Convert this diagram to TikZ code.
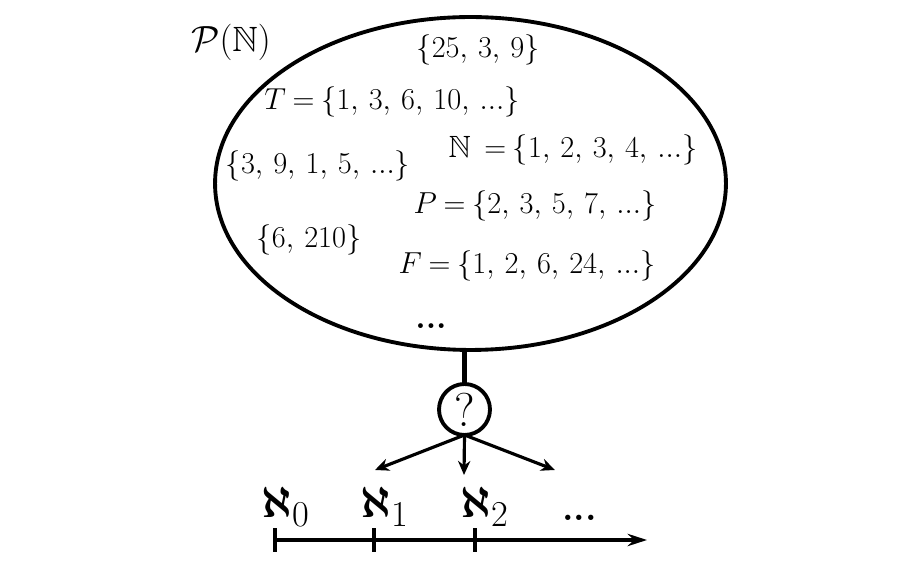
\documentclass[tikz,border=0pt]{standalone}
\usepackage{amsmath,amssymb}
\usetikzlibrary{positioning,shapes.geometric,arrows.meta}
\begin{document}
\begin{tikzpicture}[x=0.02cm,y=-0.02cm]
  \newcommand{\memberfont}[0]{\fontsize{17.5}{21}\selectfont\thickmuskip=4mu}
  \newcommand{\cardinal}[1]{$\boldsymbol{\aleph}_{#1}$}
  \newcommand{\etc}[0]{\textbf{...}}
  \tikzstyle{member}    = [font=\memberfont, inner sep=0pt]
  \tikzstyle{cardnode}  = [font=\fontsize{30}{34}\selectfont, inner sep=0pt, anchor=base west]
  \tikzstyle{connector} = [line width=1.8pt, -{Stealth[length=8pt, width=7pt]}]
  \tikzstyle{tick}      = [line width=1.8pt]
  \useasboundingbox (0,0) rectangle (920,563);
  % the power set
  \node [ellipse, draw, line width=2.2pt, outer sep=0pt, minimum width=10.22cm, minimum height=6.66cm] (powerset) at (470.5,183.5) {};
  \node [member, font=\fontsize{20}{24}\selectfont] (powersetname) at (231,42) {$\mathcal{P}(\mathbb{N})$};
  \node [member] (setA)     at (478,50)  {$\{25,\, 3,\, 9\}$};
  \node [member] (triang)   at (392,102) {$T = \{1,\, 3,\, 6,\, 10,\, ...\}$};
  \node [member] (naturals) at (573,150) {$\mathbb{N}\; = \{1,\, 2,\, 3,\, 4,\, ...\}$};
  \node [member] (setB)     at (318,166) {$\{3,\, 9,\, 1,\, 5,\, ...\}$};
  \node [member] (primes)   at (535,206) {$P = \{2,\, 3,\, 5,\, 7,\, ...\}$};
  \node [member] (setC)     at (309,240) {$\{6,\, 210\}$};
  \node [member] (facts)    at (527,266) {$F = \{1,\, 2,\, 6,\, 24,\, ...\}$};
  \node [member, anchor=base, font=\fontsize{19}{22}\selectfont] (moresets) at (431,329) {\etc};
  % the question
  \node [circle, draw, line width=2.2pt, outer sep=0pt, inner sep=0pt, minimum size=1.02cm, font=\fontsize{27}{30}\selectfont] (question) at (464.5,409.5) {?};
  \draw [line width=3pt] (powerset.south -| question.north) -- (question.north);
  \coordinate (leftend)  at (375,470);
  \coordinate (midend)   at (464,475);
  \coordinate (rightend) at (555,470);
  \draw [connector] (question.south) -- (leftend);
  \draw [connector] (question.south) -- (midend);
  \draw [connector] (question.south) -- (rightend);
  % the alephs
  \node [cardnode] (aleph0) at (261,518) {\cardinal{0}};
  \node [cardnode] (aleph1) at (360,518) {\cardinal{1}};
  \node [cardnode] (aleph2) at (460,518) {\cardinal{2}};
  \node [cardnode, font=\fontsize{21}{24}\selectfont] (morealephs) at (562,521) {\etc};
  \coordinate (axisstart) at (275,540);
  \coordinate (axisend)   at (647,540);
  \draw [line width=2pt, -{Stealth[length=11pt, width=7pt]}] (axisstart) -- (axisend);
  \foreach \x/\name in {275/tick0, 374/tick1, 475/tick2} {
    \coordinate (\name) at (\x,540);
    \draw [tick] ([yshift=6.8pt]\name) -- ([yshift=-6.8pt]\name);
  }
\end{tikzpicture}
\end{document}
